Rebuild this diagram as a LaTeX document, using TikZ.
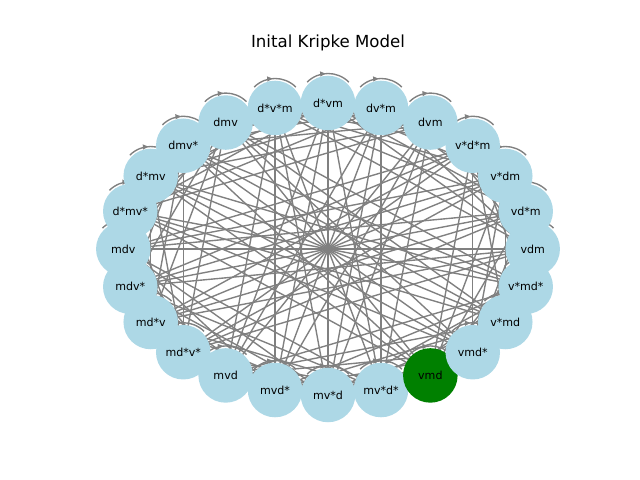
\documentclass[tikz,border=0pt]{standalone}
\usepackage{fontspec}
\setmainfont{DejaVu Sans}
\usetikzlibrary{arrows.meta, decorations.markings, backgrounds}

\definecolor{lightblue}{HTML}{ADD8E6}
\definecolor{nxgreen}{HTML}{008000}
\definecolor{edgegrey}{HTML}{808080}

\begin{document}
\begin{tikzpicture}[
            x=0.01in, y=0.01in,
            world/.style={circle, inner sep=0pt, minimum size=0.545in,
                font=\fontsize{8}{9.6}\selectfont},
            relation/.style={draw=edgegrey, line width=1pt},
            selfloop/.style={
                draw=edgegrey, line width=1pt,
                decoration={
                    markings,% arrow on top of the loop
                    mark=at position 0.45 with {\arrow[edgegrey]{Triangle[length=4pt, width=3.5pt]}}
                },
                postaction=decorate
            }
        ]
        \useasboundingbox (0, 0) rectangle (640, 480);
        \def\cx{328}
        \def\cy{231}
        \def\rx{204.7}
        \def\ry{146}

        \node (title) at (\cx, 437) {\fontsize{12}{14.4}\selectfont Inital Kripke Model};

        % worlds on the circular layout
        \foreach \name/\shade [count=\k from 0] in {vdm/lightblue, vd*m/lightblue, v*dm/lightblue, v*d*m/lightblue,
                dvm/lightblue, dv*m/lightblue, d*vm/lightblue, d*v*m/lightblue,
                dmv/lightblue, dmv*/lightblue, d*mv/lightblue, d*mv*/lightblue,
                mdv/lightblue, mdv*/lightblue, md*v/lightblue, md*v*/lightblue,
                mvd/lightblue, mvd*/lightblue, mv*d/lightblue, mv*d*/lightblue,
                vmd/nxgreen, vmd*/lightblue, v*md/lightblue, v*md*/lightblue}
            \node[world, fill=\shade] (w\k) at ({\cx + \rx * cos(15 * \k)}, {\cy + \ry * sin(15 * \k)}) {\name};

        \begin{scope}[on background layer]
            \foreach \i in {0,...,23} {
                \draw[selfloop] (w\i.center) ++(135:29.5) arc[start angle=135, end angle=45, radius=29.5];
                \foreach \j in {0,...,23} {
                    \pgfmathtruncatemacro\oa{\i/4}
                    \pgfmathtruncatemacro\ob{\j/4}
                    \pgfmathtruncatemacro\link{(\oa==\ob) || (mod(\oa+\ob,2)==1)}
                    \ifnum\j>\i
                        \ifnum\link=1
                            \draw[relation] (w\i.center) -- (w\j.center);
                        \fi
                    \fi
                }
            }
        \end{scope}
    \end{tikzpicture}
\end{document}
